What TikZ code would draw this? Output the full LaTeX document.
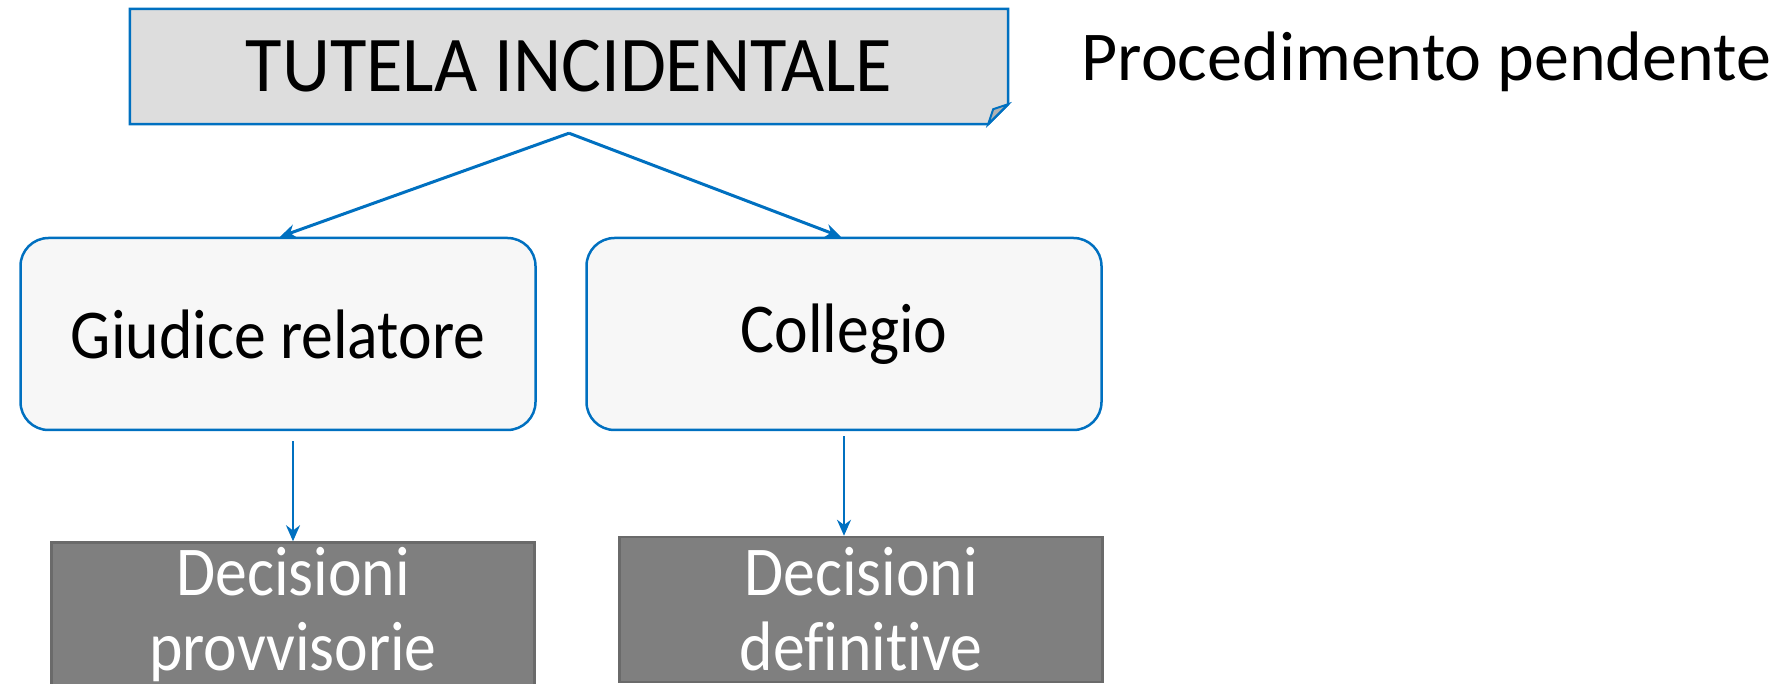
\documentclass[tikz,border=0pt]{standalone}
\usepackage{fontspec}
\setmainfont{Carlito}[Ligatures=NoCommon]
\newfontfamily\stretta{Carlito}[FakeStretch=0.91,Ligatures=NoCommon]
\newfontfamily\titolo{Carlito}[FakeStretch=0.945,Ligatures=NoCommon]
\usetikzlibrary{arrows.meta}

\definecolor{blu}{HTML}{0070C0}
\definecolor{grigiochiaro}{HTML}{DDDDDD}
\definecolor{quasibianco}{HTML}{F7F7F7}
\definecolor{grigioscuro}{HTML}{7F7F7F}
\definecolor{bordogrigio}{HTML}{6A6A6A}

\tikzset{
  organo/.style={draw=blu, line width=2.5pt, fill=quasibianco, rounded corners=28pt,
    minimum width=515pt, minimum height=192pt, font=\stretta\fontsize{70}{84}\selectfont},
  decisione/.style={draw=bordogrigio, line width=2.5pt, fill=grigioscuro, text=white,
    minimum width=483pt, minimum height=145pt, align=center, inner sep=0pt,
    font=\stretta\fontsize{70}{75}\selectfont},
  freccia/.style={draw=blu, -{Stealth[length=16pt,width=14pt]}}
}

\begin{document}
\begin{tikzpicture}[x=1pt,y=-1pt]
  \clip (0,0) rectangle (1770,684);
  \useasboundingbox (0,0) rectangle (1770,684);
  % riquadro principale
  \node[minimum width=878pt, minimum height=115pt] (tutela) at (569,66.5) {};
  \draw[blu, line width=2.5pt, fill=grigiochiaro]
    (tutela.north west) -- (tutela.north east) -- ([yshift=20pt]tutela.south east)
    -- ([xshift=-20pt]tutela.south east) -- (tutela.south west) -- cycle;
  \draw[blu, line width=2pt, fill=gray!60]
    ([xshift=-20pt]tutela.south east) -- ([xshift=-15pt,yshift=15pt]tutela.south east)
    -- ([yshift=20pt]tutela.south east) -- cycle;
  \node[font=\titolo\fontsize{79}{90}\selectfont] at (tutela) {TUTELA INCIDENTALE};
  \node[font=\fontsize{70}{84}\selectfont, anchor=west] (pendente) at (1078,62) {Procedimento pendente};
  % organi
  \node[organo] (giudice) at (278,334) {Giudice relatore};
  \node[organo] (collegio) at (844,334) {Collegio};
  % decisioni
  \node[decisione] (provv) at (293,615) {Decisioni\\provvisorie};
  \node[decisione] (defin) at (861,609.5) {Decisioni\\definitive};
  % frecce
  \coordinate (snodo) at ([yshift=-9pt]tutela.south);
  \draw[freccia, line width=3pt] (snodo) -- ([xshift=2pt]giudice.north);
  \draw[freccia, line width=3pt] (snodo) -- ([xshift=-3pt]collegio.north);
  \draw[freccia, line width=2pt] ([yshift=-10pt]giudice.south -| provv.north) -- (provv.north);
  \draw[freccia, line width=2pt] ([yshift=-5pt]collegio.south) -- (collegio.south |- defin.north);
\end{tikzpicture}
\end{document}
